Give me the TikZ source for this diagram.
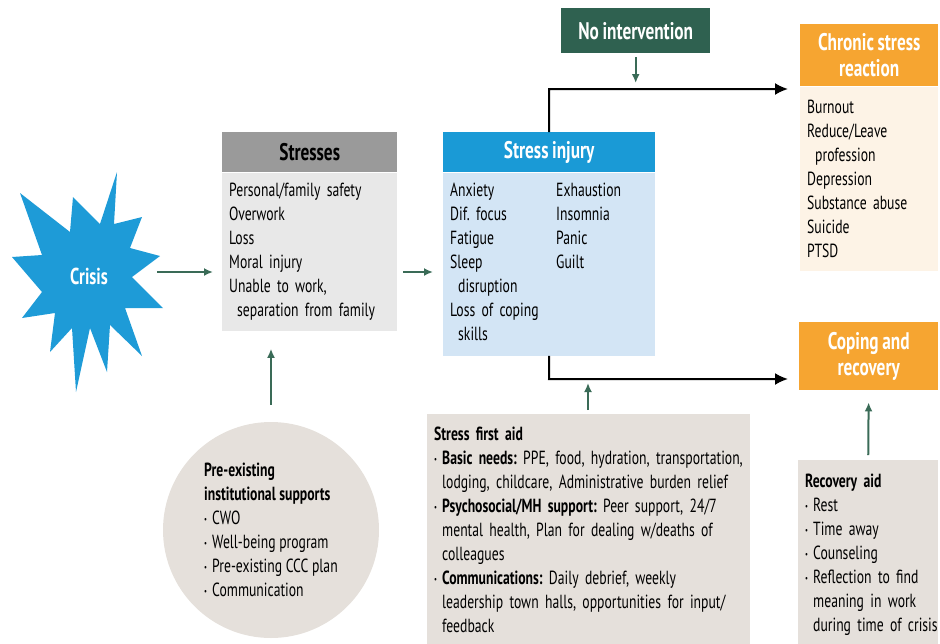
\documentclass[tikz,border=0pt]{standalone}
\usepackage{fontspec}
\setmainfont[FakeStretch=0.72]{PT Sans}
\usetikzlibrary{arrows.meta}
\definecolor{crisisblue}{HTML}{1E9BD7}
\definecolor{stressgray}{HTML}{9A9A9A}
\definecolor{stresslight}{HTML}{E8E8E8}
\definecolor{injblue}{HTML}{1A9AD6}
\definecolor{injlight}{HTML}{D3E5F5}
\definecolor{nointgreen}{HTML}{2F6150}
\definecolor{arrgreen}{HTML}{3A6B57}
\definecolor{chronorange}{HTML}{F6A531}
\definecolor{chronlight}{HTML}{FDF3E6}
\definecolor{aidbeige}{HTML}{E5E0DB}
\def\crisisstar{(117,172) -- (114,224) -- (142,217) -- (130,248) -- (160,256) -- (132,277)
  -- (163,308) -- (125,308) -- (142,356) -- (110,325) -- (107,372) -- (90,328)
  -- (76,392) -- (72,328) -- (50,352) -- (55,313) -- (22,318) -- (42,292)
  -- (12,257) -- (42,255) -- (20,193) -- (70,232) -- (73,197) -- (100,224) -- cycle}
\newcommand{\itm}{\makebox[8pt][l]{\raisebox{0.25ex}{\fontsize{9}{9}\selectfont\textbullet}}}
\newcommand{\cnt}{\hspace*{8pt}}
\newcommand{\tightsp}{\spaceskip=3.6pt plus 1pt minus 0.5pt\xspaceskip=3.6pt plus 1pt minus 0.5pt}
\frenchspacing

\begin{document}
\begin{tikzpicture}[x=1pt,y=-1pt,
    txt/.style={font=\fontsize{19}{24}\selectfont\tightsp},
    headbox/.style={anchor=north west,inner sep=0pt,font=\fontsize{24}{26}\selectfont\bfseries\tightsp,align=center},
    bodybox/.style={anchor=north west,inner xsep=7pt,inner ysep=7pt,align=left,txt},
    grnarrow/.style={draw=arrgreen,line width=2pt,-{Latex[length=9pt,width=8pt]}},
    blkarrow/.style={draw=black,line width=2pt,-{Latex[length=13pt,width=12pt]}}]
  \useasboundingbox (0,0) rectangle (940,643);

  % crisis
  \fill[crisisblue] \crisisstar;
  \node[text=white,font=\fontsize{23}{24}\selectfont\bfseries] (crisis) at (89,276) {Crisis};
  \coordinate (crisisout) at (157,272);

  % stresses
  \node[headbox,fill=stressgray,minimum width=175pt,minimum height=40pt] (strhead) at (222,132) {Stresses};
  \node[bodybox,fill=stresslight,text width=161pt,minimum height=158pt] (strbody) at (strhead.south west)
    {Personal/family safety\\Overwork\\Loss\\Moral injury\\Unable to work,\\\cnt separation from family};

  % stress injury
  \node[headbox,fill=injblue,text=white,minimum width=212pt,minimum height=40pt] (injhead) at (443,132) {Stress injury};
  \node[bodybox,fill=injlight,text width=198pt,minimum height=183pt] (injbody) at (injhead.south west)
    {\begin{tabular}{@{}p{106pt}@{}l@{}}
      Anxiety & Exhaustion\\
      Dif.\ focus & Insomnia\\
      Fatigue & Panic\\
      Sleep & Guilt\\
      \cnt disruption & \\
      Loss of coping & \\
      \cnt skills &
    \end{tabular}};

  % no intervention
  \node[headbox,fill=nointgreen,text=white,minimum width=149pt,minimum height=45pt] (nointer) at (561,8) {No intervention};

  % chronic stress reaction
  \node[headbox,fill=chronorange,text=white,minimum width=138pt,minimum height=62pt] (chrhead) at (800,24) {Chronic stress\\reaction};
  \node[bodybox,fill=chronlight,text width=124pt,minimum height=184pt] (chrbody) at (chrhead.south west)
    {Burnout\\Reduce/Leave\\\cnt profession\\Depression\\Substance abuse\\Suicide\\PTSD};

  % coping and recovery
  \node[headbox,fill=chronorange,text=white,minimum width=139pt,minimum height=68pt] (coping) at (799,322) {Coping and\\recovery};

  % aids
  \node[bodybox,fill=aidbeige,text width=126pt,minimum height=190pt] (recaid) at (798,460)
    {\textbf{Recovery aid}\\\itm Rest\\\itm Time away\\\itm Counseling\\\itm\mbox{Reflection to find}\\\hspace*{8pt}\mbox{meaning in work}\\\hspace*{8pt}\mbox{during time of crisis}};
  \node[bodybox,fill=aidbeige,text width=309pt,minimum height=232pt] (firstaid) at (427,414)
    {\textbf{Stress first aid}\\
     \itm\textbf{Basic needs:} PPE, food, hydration, transportation,\\
     \hspace*{8pt}lodging, childcare, Administrative burden relief\\
     \itm\textbf{Psychosocial/MH support:} Peer support, 24/7\\
     \hspace*{8pt}mental health, Plan for dealing w/deaths of\\
     \hspace*{8pt}colleagues\\
     \itm\textbf{Communications:} Daily debrief, weekly\\
     \hspace*{8pt}leadership town halls, opportunities for input/\\
     \hspace*{8pt}feedback};
  \node[circle,fill=aidbeige,minimum size=216pt,inner sep=0pt,align=left,txt] (presup) at (271,530)
    {\textbf{Pre-existing}\\\textbf{institutional supports}\\\itm CWO\\\itm Well-being program\\\itm Pre-existing CCC plan\\\itm Communication};

  % connectors
  \coordinate (uptop) at (549,89);
  \coordinate (lowcorner) at (549,379);
  \coordinate (faup) at (588,414);
  \draw[grnarrow,shorten >=9pt] (crisisout) -- (crisisout -| strbody.west);
  \draw[grnarrow,shorten <=6pt,shorten >=10pt] (strbody.east |- crisisout) -- (crisisout -| injbody.west);
  \draw[grnarrow,shorten <=17pt,shorten >=18pt] (presup.north) -- (presup.north |- strbody.south);
  \draw[grnarrow,shorten <=4pt,shorten >=6pt] (nointer.south) -- (nointer.south |- uptop);
  \draw[grnarrow,shorten <=4pt,shorten >=4pt] (faup) -- (faup |- lowcorner);
  \draw[grnarrow,shorten <=5pt,shorten >=12pt] (recaid.north) -- (coping.south);
  \draw[blkarrow,shorten >=12pt] (injhead.north) -- (uptop) -- (uptop -| chrhead.west);
  \draw[blkarrow,shorten >=11pt] (injbody.south) -- (lowcorner) -- (lowcorner -| coping.west);
\end{tikzpicture}
\end{document}
